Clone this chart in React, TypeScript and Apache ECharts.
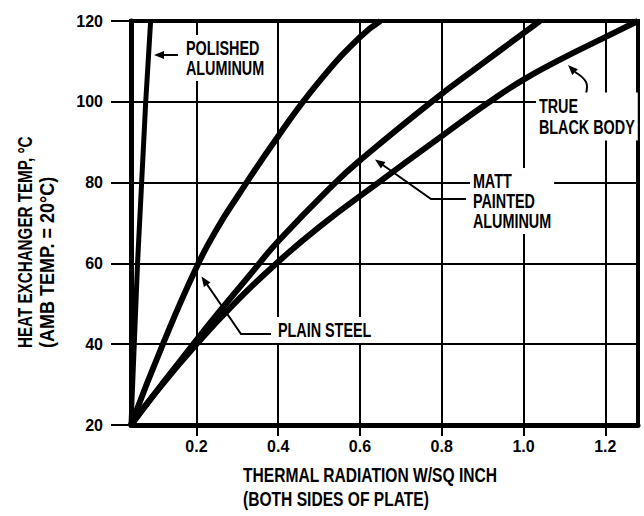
import React, { useEffect, useRef } from "react";
import * as echarts from "echarts";

// Axis ticks
const xTicks: number[] = [0.2, 0.4, 0.6, 0.8, 1.0, 1.2];
const yTicks: number[] = [20, 40, 60, 80, 100, 120];

// Curves: [thermal radiation W/sq inch, heat exchanger temp °C]
const polishedAluminum: [number, number][] = [
  [0.04, 20], [0.048, 40], [0.056, 60], [0.066, 80], [0.076, 100], [0.088, 120],
];
const plainSteel: [number, number][] = [
  [0.04, 20], [0.12, 40.5], [0.2, 59], [0.25, 68.5], [0.3, 76.5], [0.4, 91.5], [0.5, 105], [0.6, 116], [0.65, 120],
];
const mattPaintedAluminum: [number, number][] = [
  [0.04, 20], [0.2, 41], [0.35, 59.5], [0.4, 65.5], [0.54, 80], [0.6, 85.5], [0.775, 100], [0.9, 109.5], [1.0, 117], [1.04, 120],
];
const trueBlackBody: [number, number][] = [
  [0.04, 20], [0.1, 28], [0.2, 40], [0.3, 50.8], [0.39, 59.5], [0.5, 69], [0.645, 80], [0.8, 91.5], [0.91, 99.5], [1.0, 105.5], [1.1, 111], [1.2, 116], [1.28, 120],
];

const FONT = '"Liberation Sans", Arial, Helvetica, sans-serif';
const SX = 0.72;

function arrowHead(tip: number[], from: number[], len = 10, half = 4) {
  const dx = tip[0] - from[0];
  const dy = tip[1] - from[1];
  const d = Math.hypot(dx, dy);
  const ux = dx / d;
  const uy = dy / d;
  const bx = tip[0] - ux * len;
  const by = tip[1] - uy * len;
  return {
    type: "polygon",
    z: 100,
    shape: { points: [tip, [bx - uy * half, by + ux * half], [bx + uy * half, by - ux * half]] },
    style: { fill: "#000" },
  };
}

function leader(points: number[][], smooth = 0) {
  return {
    type: "polyline",
    z: 100,
    shape: { points, smooth },
    style: { stroke: "#000", lineWidth: 2, fill: null },
  };
}

function label(text: string, x: number, y: number, lineHeight = 20) {
  return {
    type: "text",
    z: 101,
    x,
    y,
    scaleX: SX,
    style: {
      text,
      font: `bold 20px ${FONT}`,
      fill: "#000",
      align: "left",
      verticalAlign: "middle",
      lineHeight,
      backgroundColor: "#fff",
      padding: [3, 4, 3, 4],
    },
  };
}

function lineSeries(name: string, data: [number, number][], width: number, smooth: number | boolean) {
  return {
    type: "line",
    name,
    data,
    showSymbol: false,
    symbol: "none",
    smooth,
    clip: true,
    silent: true,
    z: 5,
    lineStyle: { color: "#000", width },
  };
}

const xFmt = (v: number) => {
  const k = v / 0.2;
  return Math.abs(k - Math.round(k)) < 1e-6 && v > 0.1 ? v.toFixed(1) : "";
};

export default function App() {
  const ref = useRef<HTMLDivElement>(null);

  useEffect(() => {
    document.body.style.margin = "0";
    if (!ref.current) return;
    const chart = echarts.init(ref.current, undefined, { renderer: "svg" });
    chart.setOption({
      animation: false,
      backgroundColor: "#fff",
      grid: {
        left: 131,
        right: 6,
        top: 21,
        bottom: 91,
        show: true,
        borderColor: "#000",
        borderWidth: 4,
      },
      xAxis: {
        type: "value",
        min: 0.04,
        max: 1.28,
        splitNumber: 6,
        axisLine: { show: true, onZero: false, lineStyle: { color: "#000", width: 5 } },
        axisTick: { show: true, length: 11, customValues: xTicks, lineStyle: { color: "#000", width: 2 } },
        axisLabel: {
          customValues: xTicks,
          formatter: xFmt,
          color: "#000",
          fontSize: 16,
          fontWeight: "bold",
          fontFamily: FONT,
          margin: 13,
        },
        splitLine: { show: true, lineStyle: { color: "#000", width: 2 } },
      },
      yAxis: {
        type: "value",
        min: yTicks[0],
        max: yTicks[yTicks.length - 1],
        interval: 20,
        axisLine: { show: true, onZero: false, lineStyle: { color: "#000", width: 5 } },
        axisTick: { show: true, length: 20, lineStyle: { color: "#000", width: 2 } },
        axisLabel: {
          color: "#000",
          fontSize: 16,
          fontWeight: "bold",
          fontFamily: FONT,
          margin: 28,
        },
        splitLine: { show: true, lineStyle: { color: "#000", width: 2 } },
      },
      series: [
        lineSeries("Polished Aluminum", polishedAluminum, 5, false),
        lineSeries("Plain Steel", plainSteel, 6, 0.5),
        lineSeries("Matt Painted Aluminum", mattPaintedAluminum, 6, 0.5),
        lineSeries("True Black Body", trueBlackBody, 6, 0.5),
      ],
      graphic: [
        // axis titles
        {
          type: "text",
          x: 25,
          y: 348,
          rotation: Math.PI / 2,
          scaleX: 0.76,
          style: { text: "HEAT EXCHANGER TEMP, °C", font: `bold 20px ${FONT}`, fill: "#000", align: "left", verticalAlign: "middle" },
        },
        {
          type: "text",
          x: 47,
          y: 348,
          rotation: Math.PI / 2,
          scaleX: 0.9,
          style: { text: "(AMB TEMP. = 20°C)", font: `bold 20px ${FONT}`, fill: "#000", align: "left", verticalAlign: "middle" },
        },
        {
          type: "text",
          x: 243,
          y: 475,
          scaleX: 0.78,
          style: { text: "THERMAL RADIATION W/SQ INCH", font: `bold 20px ${FONT}`, fill: "#000", align: "left", verticalAlign: "middle" },
        },
        {
          type: "text",
          x: 243,
          y: 499,
          scaleX: 0.78,
          style: { text: "(BOTH SIDES OF PLATE)", font: `bold 20px ${FONT}`, fill: "#000", align: "left", verticalAlign: "middle" },
        },
        // curve labels
        label("POLISHED\nALUMINUM", 183, 58),
        leader([[178, 55], [158, 55]]),
        arrowHead([154, 55], [178, 55]),

        label("TRUE\nBLACK BODY", 536, 116.5, 21),
        leader([[586, 94], [586, 82], [575, 72]], 0.4),
        arrowHead([568, 65], [577, 74]),

        label("MATT\nPAINTED\nALUMINUM", 470, 201),
        leader([[466, 199], [431, 199], [380, 163]]),
        arrowHead([375, 159.5], [431, 199]),

        label("PLAIN STEEL", 275, 330),
        leader([[271, 334], [241, 334], [204, 280]]),
        arrowHead([201.5, 276.5], [241, 334]),
      ],
    });
    return () => chart.dispose();
  }, []);

  return <div ref={ref} style={{ width: 644, height: 516 }} />;
}
